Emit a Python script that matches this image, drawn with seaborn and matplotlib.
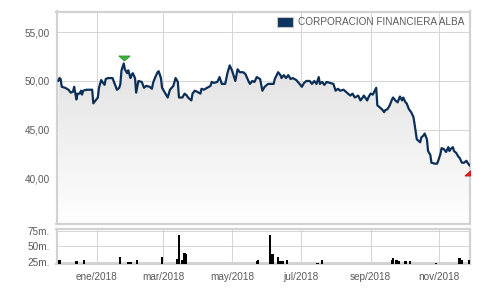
import numpy as np
import pandas as pd
import matplotlib
matplotlib.use("Agg")
import matplotlib.pyplot as plt
import matplotlib.dates as mdates
from matplotlib.patches import Patch
from matplotlib.transforms import ScaledTranslation
from matplotlib.colors import LinearSegmentedColormap
import seaborn as sns

# ---------------- data ----------------
price_dates = [
    "2017-11-28", "2017-11-29", "2017-11-30", "2017-12-01", "2017-12-04", "2017-12-07", "2017-12-09",
    "2017-12-11", "2017-12-12", "2017-12-14", "2017-12-15", "2017-12-17", "2017-12-18", "2017-12-19",
    "2017-12-20", "2017-12-23", "2017-12-26", "2017-12-28", "2017-12-29", "2017-12-31", "2018-01-02",
    "2018-01-03", "2018-01-05", "2018-01-06", "2018-01-08", "2018-01-09", "2018-01-11", "2018-01-15",
    "2018-01-17", "2018-01-19", "2018-01-21", "2018-01-22", "2018-01-23", "2018-01-25", "2018-01-26",
    "2018-01-28", "2018-01-29", "2018-01-31", "2018-02-01", "2018-02-02", "2018-02-04", "2018-02-05",
    "2018-02-07", "2018-02-10", "2018-02-12", "2018-02-14", "2018-02-17", "2018-02-19", "2018-02-20",
    "2018-02-22", "2018-02-24", "2018-02-25", "2018-02-27", "2018-02-28", "2018-03-03", "2018-03-05",
    "2018-03-07", "2018-03-10", "2018-03-12", "2018-03-14", "2018-03-15", "2018-03-18", "2018-03-20",
    "2018-03-22", "2018-03-23", "2018-03-26", "2018-03-27", "2018-03-29", "2018-03-31", "2018-04-03",
    "2018-04-04", "2018-04-06", "2018-04-09", "2018-04-12", "2018-04-13", "2018-04-15", "2018-04-18",
    "2018-04-20", "2018-04-22", "2018-04-25", "2018-04-27", "2018-04-29", "2018-05-01", "2018-05-04",
    "2018-05-06", "2018-05-08", "2018-05-11", "2018-05-13", "2018-05-16", "2018-05-17", "2018-05-19",
    "2018-05-21", "2018-05-23", "2018-05-26", "2018-05-28", "2018-05-30", "2018-06-02", "2018-06-04",
    "2018-06-07", "2018-06-08", "2018-06-11", "2018-06-13", "2018-06-14", "2018-06-16", "2018-06-18",
    "2018-06-20", "2018-06-22", "2018-06-24", "2018-06-27", "2018-06-30", "2018-07-02", "2018-07-04",
    "2018-07-06", "2018-07-09", "2018-07-11", "2018-07-13", "2018-07-15", "2018-07-17", "2018-07-18",
    "2018-07-20", "2018-07-22", "2018-07-24", "2018-07-27", "2018-07-30", "2018-08-01", "2018-08-03",
    "2018-08-05", "2018-08-08", "2018-08-11", "2018-08-14", "2018-08-16", "2018-08-18", "2018-08-21",
    "2018-08-23", "2018-08-25", "2018-08-26", "2018-08-29", "2018-08-30", "2018-09-01", "2018-09-03",
    "2018-09-06", "2018-09-07", "2018-09-09", "2018-09-11", "2018-09-13", "2018-09-14", "2018-09-16",
    "2018-09-18", "2018-09-20", "2018-09-21", "2018-09-23", "2018-09-25", "2018-09-27", "2018-09-29",
    "2018-09-30", "2018-10-02", "2018-10-03", "2018-10-05", "2018-10-07", "2018-10-09", "2018-10-10",
    "2018-10-12", "2018-10-13", "2018-10-15", "2018-10-16", "2018-10-18", "2018-10-19", "2018-10-21",
    "2018-10-22", "2018-10-24", "2018-10-25", "2018-10-28", "2018-10-30", "2018-10-31", "2018-11-02",
    "2018-11-03", "2018-11-05", "2018-11-07", "2018-11-09", "2018-11-10", "2018-11-11", "2018-11-13",
    "2018-11-14", "2018-11-16", "2018-11-18", "2018-11-19", "2018-11-21", "2018-11-23", "2018-11-25",
    "2018-11-26", "2018-11-28",
]
prices = [
    50.0, 50.3, 50.2, 49.4, 49.3, 49.1, 48.8,
    48.9, 49.4, 48.1, 48.7, 48.7, 49.0, 48.6,
    49.0, 49.1, 49.1, 49.1, 47.7, 48.0, 48.3,
    49.3, 50.1, 49.9, 49.6, 50.2, 50.3, 50.3,
    49.7, 49.1, 49.3, 49.7, 51.1, 51.8, 51.2,
    50.8, 51.1, 50.3, 50.6, 50.8, 50.3, 48.8,
    50.0, 49.9, 49.3, 49.5, 49.4, 49.2, 49.8,
    50.4, 50.9, 51.0, 50.3, 49.3, 48.7, 48.3,
    49.1, 49.5, 50.3, 49.9, 48.3, 48.3, 48.7,
    48.5, 48.3, 48.0, 48.7, 49.0, 48.9, 48.7,
    49.2, 49.1, 49.3, 49.5, 49.9, 49.8, 49.9,
    50.4, 49.7, 49.7, 50.8, 51.6, 51.1, 50.0,
    51.2, 50.9, 50.9, 50.7, 49.9, 49.7, 50.0,
    49.9, 50.4, 50.2, 49.0, 49.4, 49.7, 49.7,
    49.7, 50.2, 50.9, 50.6, 50.3, 50.6, 50.3,
    50.6, 50.2, 50.3, 50.1, 49.7, 49.4, 49.8,
    50.0, 50.0, 49.7, 50.0, 49.7, 50.4, 49.7,
    49.9, 49.6, 49.9, 49.8, 49.7, 49.0, 49.2,
    49.0, 49.1, 48.8, 48.5, 48.7, 48.3, 48.5,
    48.0, 48.3, 48.5, 48.0, 48.3, 48.7, 48.6,
    49.3, 47.5, 47.3, 47.1, 46.8, 47.0, 47.1,
    47.5, 48.1, 48.3, 48.0, 47.8, 48.4, 48.0,
    48.3, 47.8, 47.7, 47.1, 46.8, 46.3, 45.6,
    44.0, 43.9, 43.7, 44.2, 44.4, 44.6, 44.0,
    42.8, 42.4, 41.6, 41.5, 41.5, 41.8, 42.5,
    43.1, 43.0, 42.7, 43.2, 42.8, 43.0, 43.2,
    42.8, 42.6, 42.2, 42.1, 41.6, 41.6, 41.8,
    41.6, 41.3,
]

volume_dates = [
    "2017-11-29", "2017-12-14", "2017-12-21", "2018-01-22", "2018-01-29", "2018-01-31",
    "2018-02-06", "2018-02-28", "2018-03-13", "2018-03-15", "2018-03-18", "2018-03-20",
    "2018-03-21", "2018-05-23", "2018-05-24", "2018-06-04", "2018-06-06", "2018-06-11",
    "2018-06-13", "2018-06-15", "2018-06-19", "2018-07-16", "2018-07-20", "2018-08-31",
    "2018-09-20", "2018-09-21", "2018-09-24", "2018-09-26", "2018-10-02", "2018-10-06",
    "2018-10-22", "2018-10-29", "2018-11-08", "2018-11-19", "2018-11-21", "2018-11-27",
]
volume_values = [
    28.5, 26, 28, 33, 25.5, 25.5,
    28, 33, 30, 68, 28, 39,
    38, 26, 28.6, 69, 37.6, 33,
    26, 27, 28, 23, 28, 22.3,
    28, 31, 28, 27, 26, 26,
    22.5, 24, 22.5, 31, 28, 28,
]

series_name = "CORPORACION FINANCIERA ALBA"
price_ticks = [40, 45, 50, 55]
price_tick_labels = ["40,00", "45,00", "50,00", "55,00"]
volume_ticks = [25, 50, 75]
volume_tick_labels = ["25m.", "50m.", "75m."]
month_ticks = ["2018-01-01", "2018-03-01", "2018-05-01", "2018-07-01", "2018-09-01", "2018-11-01"]
month_tick_labels = ["ene/2018", "mar/2018", "may/2018", "jul/2018", "sep/2018", "nov/2018"]

# ---------------- style ----------------
sns.set_theme(style="white")
plt.rcParams["font.family"] = ["Liberation Sans", "DejaVu Sans"]

LINE = "#0c2f58"
GRID = "#d6d6d6"
FRAME = "#d2d2d2"
TXT = "#5a5a5a"
FS = 7.2

W, H = 501, 294
fig = plt.figure(figsize=(W / 100, H / 100), dpi=100)
fig.patch.set_facecolor("white")

left, right = 56.5, 470.0
ax = fig.add_axes([left / W, 1 - 224.0 / H, (right - left) / W, (224.0 - 11.5) / H])
axv = fig.add_axes([left / W, 1 - 264.0 / H, (right - left) / W, (264.0 - 229.3) / H])

x = pd.to_datetime(pd.Series(price_dates))
y = np.array(prices, dtype=float)
xv = pd.to_datetime(pd.Series(volume_dates))

xmin = pd.Timestamp("2017-11-26 08:00")
xmax = pd.Timestamp("2018-11-28 05:00")
ylo, yhi = 35.3, 57.14

# gradient fill under the line
poly = ax.fill_between(x, y, ylo, facecolor="none", edgecolor="none")
cmap = LinearSegmentedColormap.from_list("g", ["#ffffff", "#d9d9d9"])
grad = np.linspace(0, 1, 256).reshape(-1, 1)
im = ax.imshow(grad, extent=[mdates.date2num(xmin), mdates.date2num(xmax), ylo, yhi],
               aspect="auto", origin="lower", cmap=cmap, zorder=1, interpolation="bilinear")
im.set_clip_path(poly.get_paths()[0], transform=ax.transData)

sns.lineplot(x=x, y=y, ax=ax, color=LINE, linewidth=1.6, zorder=3, legend=False)

# max / min markers
imax = int(np.argmax(y))
imin = int(np.argmin(y))
down_tri = [(-1, 0.45), (1, 0.45), (0, -0.45), (-1, 0.45)]
up_tri = [(-1, -0.45), (1, -0.45), (0, 0.45), (-1, -0.45)]
ax.plot([x.iloc[imax]], [y[imax]], marker=down_tri, markersize=8, color="#3db53d",
        markeredgecolor="#2b8f2b", markeredgewidth=0.6, linestyle="none", zorder=4,
        transform=ax.transData + ScaledTranslation(0, 0.05, fig.dpi_scale_trans))
ax.plot([x.iloc[imin]], [y[imin]], marker=up_tri, markersize=8, color="#e82020",
        markeredgecolor="#c01010", markeredgewidth=0.6, linestyle="none", zorder=4,
        transform=ax.transData + ScaledTranslation(0, -0.07, fig.dpi_scale_trans))

# volume bars
axv.bar(xv, volume_values, width=2.0, color="#000000", linewidth=0, zorder=3)

mt = pd.to_datetime(pd.Series(month_ticks))
for a in (ax, axv):
    a.set_facecolor("white")
    a.set_xlim(xmin, xmax)
    a.set_xticks(mt)
    a.grid(True, color=GRID, linewidth=0.75, zorder=0)
    a.set_axisbelow(True)
    for s in a.spines.values():
        s.set_visible(True)
        s.set_color(FRAME)
        s.set_linewidth(1.6)
    a.tick_params(length=0, labelsize=FS, labelcolor=TXT)
    a.set_xlabel("")
    a.set_ylabel("")

ax.set_ylim(ylo, yhi)
ax.set_yticks(price_ticks)
ax.set_yticklabels(price_tick_labels)
ax.set_xticklabels([])
ax.tick_params(axis="y", pad=5)

axv.set_ylim(21.8, 77.7)
axv.set_yticks(volume_ticks)
axv.set_yticklabels(volume_tick_labels)
axv.set_xticklabels(month_tick_labels)
axv.tick_params(axis="y", pad=5)
axv.tick_params(axis="x", pad=6)

handle = Patch(facecolor="#0d3561", edgecolor="#c4c4c4", linewidth=0.8, label=series_name)
leg = ax.legend(handles=[handle], loc="upper right", frameon=False, fontsize=FS,
                handlelength=1.6, handleheight=1.1, handletextpad=0.55,
                borderaxespad=0.25, borderpad=0.3)
for t in leg.get_texts():
    t.set_color(TXT)

fig.savefig("out.png", dpi=100, facecolor="white")
